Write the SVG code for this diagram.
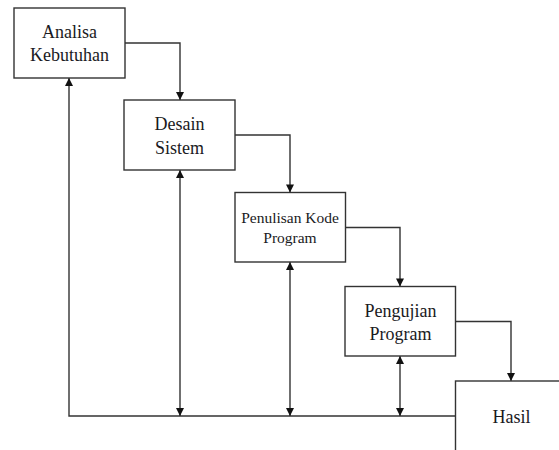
<svg xmlns="http://www.w3.org/2000/svg" width="559" height="450" viewBox="0 0 559 450">
<style>
.box{fill:#fff;stroke:#333;stroke-width:1.4}
.ln{fill:none;stroke:#333;stroke-width:1.4}
.t{font-family:"Liberation Serif","Times New Roman",serif;font-size:18px;fill:#1a1a22;text-anchor:middle}
.s{font-size:15.5px}
</style>
<defs>
<marker id="ah" viewBox="0 0 10 10" refX="10" refY="5" markerWidth="9" markerHeight="8" markerUnits="userSpaceOnUse" orient="auto-start-reverse">
<path d="M0,0 L10,5 L0,10 z" fill="#111"/>
</marker>
</defs>
<rect width="559" height="450" fill="#fff"/>
<g id="connectors">
<path class="ln" d="M125,43 H180 V100" marker-end="url(#ah)"/>
<path class="ln" d="M235,135 H290 V192.5" marker-end="url(#ah)"/>
<path class="ln" d="M345.5,227.5 H400 V286.5" marker-end="url(#ah)"/>
<path class="ln" d="M455.5,321.5 H511 V381" marker-end="url(#ah)"/>
<path class="ln" d="M455.5,416 H69 V78" marker-end="url(#ah)"/>
<path class="ln" d="M180,170 V416" marker-start="url(#ah)" marker-end="url(#ah)"/>
<path class="ln" d="M290,262 V416" marker-start="url(#ah)" marker-end="url(#ah)"/>
<path class="ln" d="M400,356 V416" marker-start="url(#ah)" marker-end="url(#ah)"/>
</g>
<g id="analisa">
<rect class="box" x="14" y="8" width="111" height="70"/>
<text class="t" x="69.5" y="37.5">Analisa</text>
<text class="t" x="69.5" y="61">Kebutuhan</text>
</g>
<g id="desain">
<rect class="box" x="124" y="100" width="111" height="70"/>
<text class="t" x="179.5" y="130">Desain</text>
<text class="t" x="179.5" y="153.5">Sistem</text>
</g>
<g id="penulisan">
<rect class="box" x="235" y="192.5" width="110.5" height="69.5"/>
<text class="t s" x="290" y="223">Penulisan Kode</text>
<text class="t s" x="290" y="242.5">Program</text>
</g>
<g id="pengujian">
<rect class="box" x="345" y="286.5" width="110.5" height="69.5"/>
<text class="t" x="400.5" y="317">Pengujian</text>
<text class="t" x="400.5" y="339.5">Program</text>
</g>
<g id="hasil">
<rect class="box" x="455.5" y="381" width="130" height="100"/>
<text class="t" x="511.5" y="423">Hasil</text>
</g>
</svg>
